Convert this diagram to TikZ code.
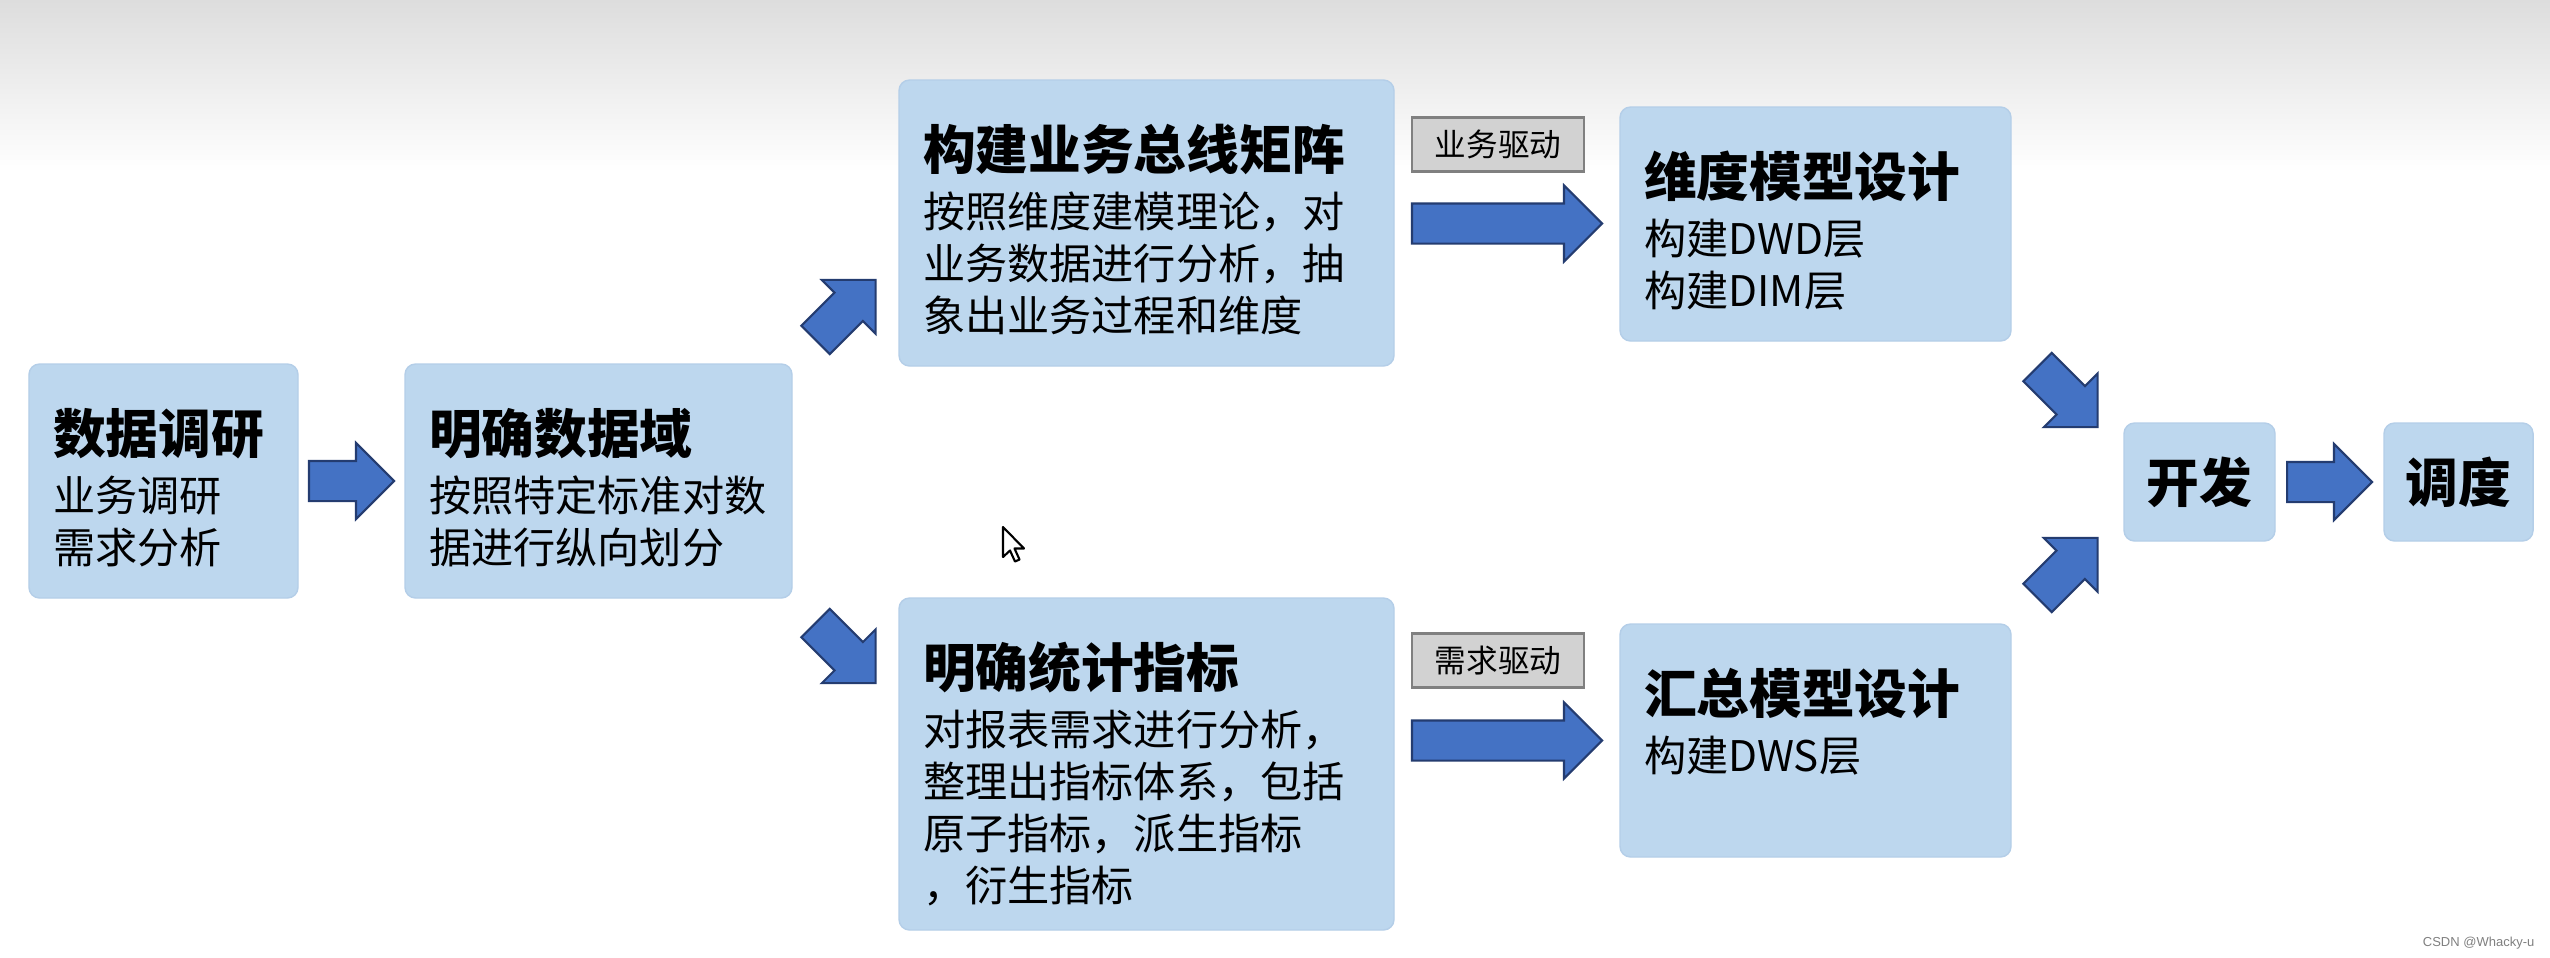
\documentclass[tikz,border=0pt]{standalone}
\usepackage{fontspec}
\setmainfont{Noto Sans CJK SC}
\newfontfamily\markfont{Liberation Sans}
\usetikzlibrary{shapes.arrows, calc, positioning}

\definecolor{boxblue}{RGB}{189,215,238}
\definecolor{boxedge}{RGB}{180,206,232}
\definecolor{arrowblue}{RGB}{68,114,196}
\definecolor{arrowline}{RGB}{36,60,112}
\definecolor{tagfill}{RGB}{210,210,210}
\definecolor{tagline}{RGB}{128,128,128}
\definecolor{bggray}{RGB}{221,221,221}

\tikzset{
    stagebox/.style={rectangle, rounded corners=3pt, fill=boxblue, draw=boxedge, line width=0.4pt, inner sep=0pt},
    stagetitle/.style={anchor=base west, inner sep=0pt, font=\fontsize{15}{18}\selectfont\bfseries},
    stageline/.style={anchor=base west, inner sep=0pt, font=\fontsize{12}{14}\selectfont},
    blkarrow/.style={single arrow, draw=arrowline, fill=arrowblue, line width=0.6pt,
        inner xsep=0pt, inner ysep=0.19cm, minimum width=0.74cm,
        single arrow head extend=0.18cm, minimum height=#1},
    blkarrow/.default=0.85cm,
    drivetag/.style={rectangle, draw=tagline, fill=tagfill, line width=0.6pt, anchor=west,
        minimum width=1.72cm, minimum height=0.54cm, inner sep=0pt, font=\fontsize{9}{11}\selectfont}
}

\begin{document}
\begin{tikzpicture}
    \useasboundingbox (0,0) rectangle (25.5,9.57);
    % Fundo
    \fill[white] (0,0) rectangle (25.5,9.57);
    \shade[top color=bggray, bottom color=white] (0,7.85) rectangle (25.5,9.57);

    % Caixas
    \node[stagebox, minimum width=2.69cm, minimum height=2.34cm] (A) at (1.635,4.76) {};
    \node[stagebox, minimum width=3.87cm, minimum height=2.34cm] (B) at (5.985,4.76) {};
    \node[stagebox, minimum width=4.95cm, minimum height=2.86cm] (C) at (11.465,7.34) {};
    \node[stagebox, minimum width=4.95cm, minimum height=3.32cm] (G) at (11.465,1.93) {};
    \node[stagebox, minimum width=3.91cm, minimum height=2.34cm] (D) at (18.155,7.33) {};
    \node[stagebox, minimum width=3.91cm, minimum height=2.33cm] (H) at (18.155,2.165) {};
    \node[stagebox, minimum width=1.51cm, minimum height=1.18cm, font=\fontsize{15}{18}\selectfont\bfseries] (E) at (21.995,4.75) {开发};
    \node[stagebox, minimum width=1.49cm, minimum height=1.18cm, font=\fontsize{15}{18}\selectfont\bfseries] (F) at (24.585,4.75) {调度};

    % Titulos
    \foreach \b/\t in {A/数据调研, B/明确数据域, C/构建业务总线矩阵, G/明确统计指标, D/维度模型设计, H/汇总模型设计}
        \node[stagetitle] (\b t) at ($(\b.north west)+(0.24,-0.9)$) {\t};

    % Linhas de texto
    \foreach \t [count=\i] in {业务调研, 需求分析}
        \node[stageline] (A\i) at ($(At.base west)+(0,{-0.58-(\i-1)*0.52})$) {\t};
    \foreach \t [count=\i] in {按照特定标准对数, 据进行纵向划分}
        \node[stageline] (B\i) at ($(Bt.base west)+(0,{-0.58-(\i-1)*0.52})$) {\t};
    \foreach \t [count=\i] in {按照维度建模理论，对, 业务数据进行分析，抽, 象出业务过程和维度}
        \node[stageline] (C\i) at ($(Ct.base west)+(0,{-0.58-(\i-1)*0.52})$) {\t};
    \foreach \t [count=\i] in {对报表需求进行分析，, 整理出指标体系，包括, 原子指标，派生指标, ，衍生指标}
        \node[stageline] (G\i) at ($(Gt.base west)+(0,{-0.58-(\i-1)*0.52})$) {\t};
    \foreach \t [count=\i] in {构建DWD层, 构建DIM层}
        \node[stageline] (D\i) at ($(Dt.base west)+(0,{-0.58-(\i-1)*0.52})$) {\t};
    \node[stageline] (H1) at ($(Ht.base west)+(0,-0.58)$) {构建DWS层};

    % Setas
    \node[blkarrow] (ab) at ($(A.east)!0.5!(B.west)+(-0.1,0)$) {};
    \node[blkarrow, rotate=45] (bc) at ($(B.north east)!0.5!(C.south west)+(-0.07,0.48)$) {};
    \node[blkarrow, rotate=-45] (bg) at ($(B.south east)!0.5!(G.north west)+(-0.07,-0.48)$) {};
    \node[blkarrow=1.9cm] (cd) at ($(C.east)!0.5!(D.west)+(-0.1,0)$) {};
    \node[blkarrow=1.9cm] (gh) at ($(G.east |- H.west)!0.5!(H.west)+(-0.1,0)$) {};
    \node[blkarrow, rotate=-45] (de) at ($(D.south east)!0.5!(E.north west)+(-0.07,-0.08)$) {};
    \node[blkarrow, rotate=45] (he) at ($(H.north east)!0.5!(E.south west)+(-0.07,0.075)$) {};
    \node[blkarrow] (ef) at ($(E.east)!0.5!(F.west)+(-0.1,0)$) {};

    % Rotulos
    \node[drivetag] (L1) at ($(cd.tail)+(0,0.79)$) {业务驱动};
    \node[drivetag] (L2) at ($(gh.tail)+(0,0.8)$) {需求驱动};

    % Cursor
    \draw[shift={(10.03,4.30)}, fill=white, line width=0.6pt, line join=round]
        (0,0) -- (0,-0.30) -- (0.07,-0.235) -- (0.12,-0.345) -- (0.165,-0.325)
        -- (0.115,-0.215) -- (0.21,-0.215) -- cycle;

    % Marca
    \node[anchor=base east, inner sep=0pt, text=gray, font=\markfont\fontsize{3.7}{4.5}\selectfont] (mark) at (25.35,0.11) {CSDN @Whacky-u};
\end{tikzpicture}
\end{document}
